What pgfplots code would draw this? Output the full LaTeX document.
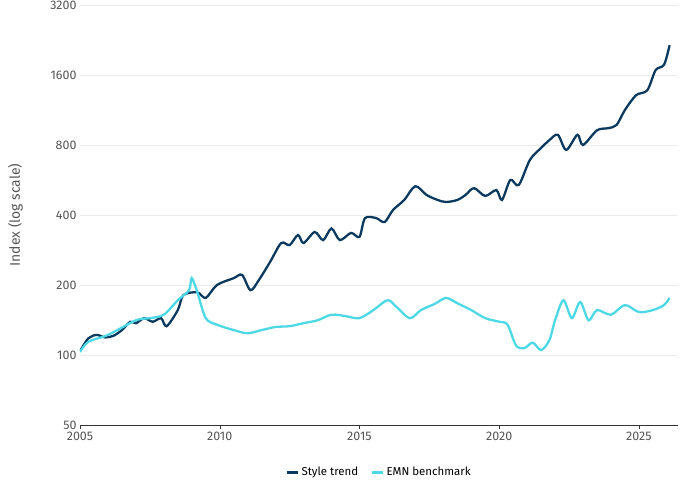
\documentclass[border=0pt]{standalone}
\usepackage{pgfplots}
\pgfplotsset{compat=1.18}
\usepackage{fontspec}
\setmainfont{Fira Sans}
\definecolor{navy}{HTML}{0B3A5E}
\definecolor{cyanl}{HTML}{4DD8E6}
\definecolor{txt}{HTML}{555555}
\begin{document}
\begin{tikzpicture}
\begin{axis}[
 scale only axis, width=598bp, height=420bp,
 xmin=2005, xmax=2026.4, ymode=log, log basis y=2, ymin=50, ymax=3200,
 ytick={50,100,200,400,800,1600,3200}, yticklabels={50,100,200,400,800,1600,3200},
 xtick={2005,2010,2015,2020,2025}, xticklabel style={/pgf/number format/1000 sep=},
 /pgf/number format/assume math mode=true,
 ymajorgrids, grid style={gray!15},
 axis line style={draw=none}, axis x line*=bottom, x axis line style={draw=black!80},
 tick style={draw=none}, xtick style={draw=black!80}, xtick align=outside, major tick length=4bp,
 ticklabel style={font=\fontsize{12.5}{14}\selectfont, text=txt},
 ylabel={Index (log scale)}, ylabel style={font=\fontsize{14}{16}\selectfont, text=txt, at={(axis description cs:-0.108,0.5)}, anchor=center},
 legend style={at={(0.5,-0.112)}, anchor=center, draw=none, legend columns=2, font=\fontsize{11.5}{13}\selectfont, /tikz/every even column/.append style={column sep=10bp}},
 legend image code/.code={\draw[#1, line width=3pt] (0cm,0cm) -- (0.4cm,0cm);},
]
\addplot[navy, line width=2.3pt, smooth] coordinates {
(2005.0,104)(2005.3,118)(2005.6,122)(2005.9,119)(2006.2,121)(2006.5,128)(2006.8,139)(2007.0,137)(2007.3,144)(2007.6,139)(2007.9,144)(2008.1,133)(2008.5,156)(2008.7,181)(2009.2,186)(2009.5,176)(2009.9,200)(2010.5,214)(2010.8,221)(2011.1,190)(2011.4,210)(2011.8,251)(2012.2,303)(2012.5,297)(2012.8,328)(2013.0,303)(2013.4,338)(2013.7,312)(2014.0,350)(2014.3,312)(2014.7,335)(2015.0,322)(2015.2,388)(2015.6,388)(2015.9,373)(2016.2,420)(2016.6,464)(2017.0,532)(2017.4,488)(2017.8,464)(2018.1,455)(2018.5,464)(2018.8,488)(2019.1,522)(2019.5,483)(2019.9,512)(2020.1,464)(2020.4,566)(2020.7,538)(2021.1,690)(2021.5,777)(2021.8,840)(2022.1,885)(2022.4,762)(2022.8,885)(2023.0,800)(2023.5,925)(2023.9,945)(2024.2,975)(2024.5,1131)(2024.9,1310)(2025.3,1375)(2025.6,1680)(2025.9,1770)(2026.1,2150)};
\addlegendentry{Style trend}
\addplot[cyanl, line width=2.3pt, smooth] coordinates {
(2005.0,103)(2005.3,114)(2006.0,122)(2007.0,141)(2007.5,144)(2008.0,149)(2008.5,172)(2008.9,190)(2009.0,214)(2009.2,186)(2009.5,144)(2009.9,135)(2010.5,128)(2011.0,124)(2011.5,128)(2012.0,132)(2012.5,133)(2013.0,137)(2013.5,141)(2014.0,149)(2014.5,147)(2015.0,144)(2015.5,156)(2016.0,172)(2016.3,162)(2016.8,144)(2017.2,156)(2017.7,166)(2018.1,176)(2018.5,167)(2019.0,156)(2019.5,144)(2020.0,139)(2020.3,135)(2020.6,110)(2020.9,107)(2021.2,113)(2021.5,105)(2021.8,116)(2022.0,141)(2022.3,172)(2022.6,144)(2022.9,169)(2023.2,141)(2023.5,156)(2024.0,149)(2024.5,164)(2025.0,153)(2025.5,156)(2025.9,164)(2026.1,176)};
\addlegendentry{EMN benchmark}
\end{axis}
\pgfresetboundingbox
\path ([shift={(-80bp,-57bp)}]current axis.south west) rectangle ([shift={(14bp,5bp)}]current axis.north east);
\end{tikzpicture}
\end{document}
